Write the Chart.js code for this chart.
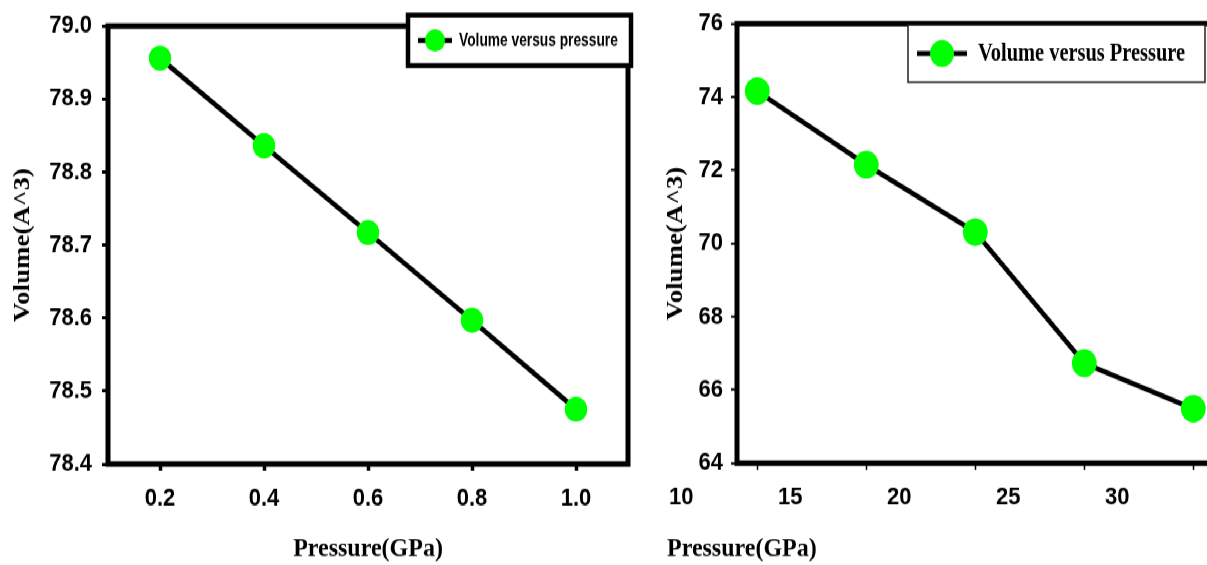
<!DOCTYPE html>
<html lang="en">
<head>
<meta charset="UTF-8">
<title>Volume versus pressure</title>
<script src="https://cdn.jsdelivr.net/npm/chart.js"></script>
<style>
  body { margin: 0; overflow: hidden; background: #fff; }
  /* the original figure is a little stretched vertically */
  #wrap { position: absolute; left: 0; top: 0; width: 1300px; height: 504px;
          transform: scaleY(1.121); transform-origin: 0 0; }
  canvas { position: absolute; top: 0; }
  #left { left: 0; }
  #right { left: 640px; }
</style>
</head>
<body>
<div id="wrap">
  <canvas id="left" width="640" height="504"></canvas>
  <canvas id="right" width="620" height="504"></canvas>
</div>
<script>
// left panel
const pressureA = ['0.2', '0.4', '0.6', '0.8', '1.0'];
const volumeA = [78.956, 78.836, 78.717, 78.597, 78.475];

// right panel
const pressureB = [13.5, 18.5, 23.5, 28.5, 33.5];
const volumeB = [74.16, 72.15, 70.31, 66.73, 65.49];
const tickLabelsB = ['10', '15', '20', '25', '30'];

const tickFont = {family: 'Liberation Sans', size: 22, weight: 'bold'};
const titleFont = {family: 'Liberation Serif', size: 24, weight: 'bold'};

// thick box round the plot area
const frame = {
    id: 'frame',
    beforeDatasetsDraw(chart, args, o) {
        const a = chart.chartArea, ctx = chart.ctx;
        ctx.save();
        ctx.lineWidth = o.width;
        ctx.strokeStyle = '#000';
        ctx.strokeRect(a.left, a.top, a.right - a.left, a.bottom - a.top);
        ctx.restore();
    }
};

// boxed legend with line + marker sample
const legendBox = {
    id: 'legendBox',
    afterDraw(chart, args, o) {
        const ctx = chart.ctx, ds = chart.data.datasets[0];
        const cy = o.y + o.h / 2;
        ctx.save();
        ctx.fillStyle = '#fff';
        ctx.fillRect(o.x, o.y, o.w, o.h);
        ctx.lineWidth = o.border;
        ctx.strokeStyle = o.borderColor;
        ctx.strokeRect(o.x, o.y, o.w, o.h);
        ctx.lineWidth = ds.borderWidth;
        ctx.strokeStyle = ds.borderColor;
        ctx.beginPath();
        ctx.moveTo(o.x + o.l0, cy);
        ctx.lineTo(o.x + o.l1, cy);
        ctx.stroke();
        ctx.fillStyle = ds.pointBackgroundColor;
        ctx.beginPath();
        ctx.arc(o.x + (o.l0 + o.l1) / 2, cy, o.r, 0, Math.PI * 2);
        ctx.fill();
        ctx.fillStyle = '#000';
        ctx.font = o.font;
        ctx.textBaseline = 'middle';
        ctx.translate(o.x + o.tx, cy);
        ctx.scale(o.squeeze, 1);
        ctx.fillText(ds.label, 0, 0);
        ctx.restore();
    }
};

new Chart(document.getElementById('left'), {
    type: 'line',
    data: {
        labels: pressureA,
        datasets: [{
            label: 'Volume versus pressure',
            data: volumeA,
            borderColor: '#000',
            borderWidth: 4.5,
            pointBackgroundColor: '#00ff00',
            pointBorderWidth: 0,
            pointRadius: 11.2,
            tension: 0
        }]
    },
    options: {
        responsive: false,
        animation: false,
        devicePixelRatio: 1,
        layout: {padding: {top: 18, right: 12, bottom: 0, left: 0}},
        scales: {
            x: {
                offset: true,
                ticks: {color: '#000', font: tickFont, padding: 12},
                grid: {offset: false, drawOnChartArea: false, tickLength: 6, tickWidth: 3.5, tickColor: '#000'},
                border: {display: false},
                title: {display: true, text: 'Pressure(GPa)', color: '#000', font: titleFont, padding: {top: 0, bottom: 0}},
                afterFit: s => { s.height = 90; }
            },
            y: {
                min: 78.4,
                max: 79.0,
                ticks: {stepSize: 0.1, color: '#000', font: tickFont, padding: 10, callback: v => v.toFixed(1)},
                grid: {drawOnChartArea: false, tickLength: 6, tickWidth: 3, tickColor: '#000'},
                border: {display: false},
                title: {display: true, text: 'Volume(A^3)', color: '#000', font: titleFont, padding: {top: 8, bottom: 0}},
                afterFit: s => { s.width = 108; }
            }
        },
        plugins: {
            legend: {display: false},
            tooltip: {enabled: false},
            frame: {width: 5},
            legendBox: {x: 408, y: 13.6, w: 223, h: 45, border: 4.5, borderColor: '#000',
                l0: 10, l1: 44, r: 10, tx: 51, font: 'bold 16px "Liberation Sans"', squeeze: 0.86}
        }
    },
    plugins: [frame, legendBox]
});

new Chart(document.getElementById('right'), {
    type: 'line',
    data: {
        datasets: [{
            label: 'Volume versus Pressure',
            data: pressureB.map((p, i) => ({x: p, y: volumeB[i]})),
            borderColor: '#000',
            borderWidth: 4.5,
            pointBackgroundColor: '#00ff00',
            pointBorderWidth: 0,
            pointRadius: 12.4,
            tension: 0
        }]
    },
    options: {
        responsive: false,
        animation: false,
        devicePixelRatio: 1,
        layout: {padding: {top: 18, right: 34, bottom: 0, left: 27}},
        scales: {
            x: {
                type: 'linear',
                min: 12.57,
                max: 35,
                afterBuildTicks: s => { s.ticks = pressureB.map(v => ({value: v})); },
                ticks: {color: '#000', font: tickFont, padding: 12, labelOffset: -76,
                    callback: (v, i) => tickLabelsB[i]},
                grid: {drawOnChartArea: false, tickLength: 6, tickWidth: 1.5, tickColor: '#000'},
                border: {display: false},
                afterFit: s => { s.height = 62; }
            },
            y: {
                min: 64,
                max: 76,
                ticks: {stepSize: 2, color: '#000', font: tickFont, padding: 8},
                grid: {drawOnChartArea: false, tickLength: 6, tickWidth: 2, tickColor: '#000'},
                border: {display: false},
                title: {display: true, text: 'Volume(A^3)', color: '#000',
                    font: {family: 'Liberation Serif', size: 24, weight: 'bold', lineHeight: 0.7}, padding: {top: 0, bottom: 0}},
                afterFit: s => { s.width = 70; }
            }
        },
        plugins: {
            legend: {display: false},
            tooltip: {enabled: false},
            title: {display: true, text: 'Pressure(GPa)', position: 'bottom', align: 'start',
                color: '#000', font: titleFont, padding: 0},
            frame: {width: 5},
            legendBox: {x: 268, y: 22.3, w: 297, h: 51, border: 1.5, borderColor: '#222',
                l0: 9, l1: 59, r: 12, tx: 70, font: 'bold 24px "Liberation Serif"', squeeze: 0.85}
        }
    },
    plugins: [frame, legendBox]
});
</script>
</body>
</html>
